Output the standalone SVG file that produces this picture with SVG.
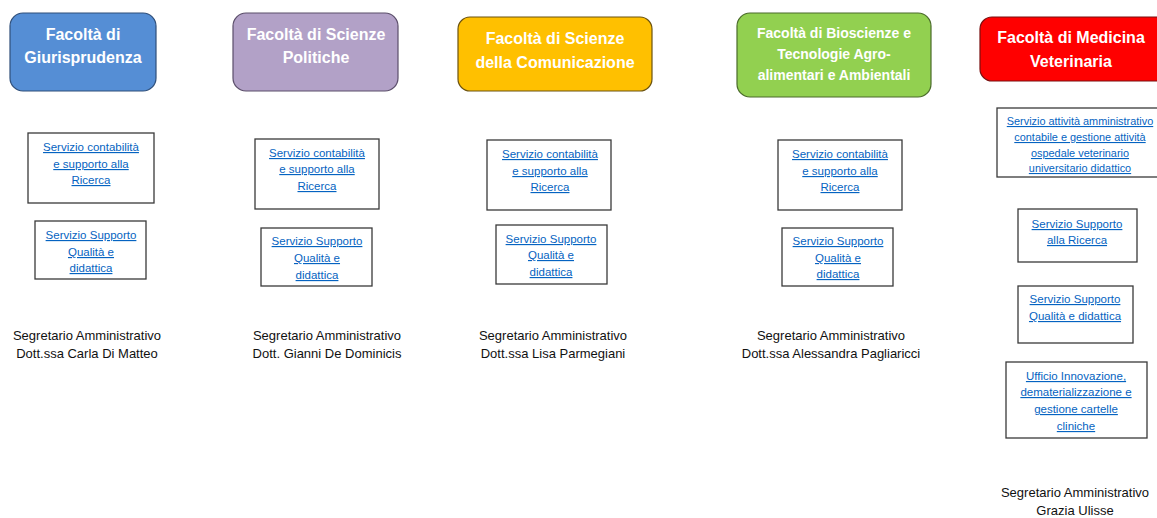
<svg xmlns="http://www.w3.org/2000/svg" width="1157" height="518" viewBox="0 0 1157 518">
<style>
.hdr{font-family:"Liberation Sans",Arial,sans-serif;font-weight:bold;fill:#fff;text-anchor:middle}
.h16{font-size:16px}
.h14{font-size:14px}
.svc{fill:#fff;stroke:#3a3a3a;stroke-width:1.3}
.lnk{font-family:"Liberation Sans",Arial,sans-serif;font-size:11.5px;fill:#0563C1;text-decoration:underline;text-anchor:middle}
.lnk.sm{font-size:10.9px}
.sec{font-family:"Liberation Sans",Arial,sans-serif;font-size:13px;fill:#111;text-anchor:middle}
</style>
<rect width="1157" height="518" fill="#fff"/>
<g id="connectors"/>
<g id="fac1">
<rect x="10" y="13" width="146" height="78" rx="13" fill="#558ED5" stroke="#2f4f7a" stroke-width="1.2"/>
<text class="hdr h16" x="83" y="40">Facoltà di</text>
<text class="hdr h16" x="83" y="63">Giurisprudenza</text>
</g>
<g id="fac2">
<rect x="233" y="13" width="165" height="78" rx="13" fill="#B2A1C7" stroke="#5b4e6a" stroke-width="1.2"/>
<text class="hdr h16" x="316" y="40">Facoltà di Scienze</text>
<text class="hdr h16" x="316" y="63">Politiche</text>
</g>
<g id="fac3">
<rect x="458" y="17" width="194" height="74" rx="12" fill="#FFC000" stroke="#6b5210" stroke-width="1.2"/>
<text class="hdr h16" x="555" y="44">Facoltà di Scienze</text>
<text class="hdr h16" x="555" y="68">della Comunicazione</text>
</g>
<g id="fac4">
<rect x="737" y="13" width="194" height="84" rx="13" fill="#92D050" stroke="#4a6b2a" stroke-width="1.2"/>
<text class="hdr h14" x="834" y="38">Facoltà di Bioscienze e</text>
<text class="hdr h14" x="834" y="59">Tecnologie Agro-</text>
<text class="hdr h14" x="834" y="80">alimentari e Ambientali</text>
</g>
<g id="fac5">
<rect x="980" y="17" width="190" height="64" rx="12" fill="#FF0000" stroke="#7a1010" stroke-width="1.2"/>
<text class="hdr h16" x="1071" y="43">Facoltà di Medicina</text>
<text class="hdr h16" x="1071" y="67">Veterinaria</text>
</g>
<g id="s1a">
<rect class="svc" x="28" y="133" width="126" height="70"/>
<text class="lnk" x="91" y="151">Servizio contabilità</text>
<text class="lnk" x="91" y="168">e supporto alla</text>
<text class="lnk" x="91" y="184">Ricerca</text>
</g>
<g id="s1b">
<rect class="svc" x="35" y="221" width="111" height="58"/>
<text class="lnk" x="91" y="239">Servizio Supporto</text>
<text class="lnk" x="91" y="256">Qualità e</text>
<text class="lnk" x="91" y="272">didattica</text>
</g>
<g id="s2a">
<rect class="svc" x="255" y="139" width="124" height="70"/>
<text class="lnk" x="317" y="157">Servizio contabilità</text>
<text class="lnk" x="317" y="173">e supporto alla</text>
<text class="lnk" x="317" y="190">Ricerca</text>
</g>
<g id="s2b">
<rect class="svc" x="261" y="228" width="111" height="58"/>
<text class="lnk" x="317" y="245">Servizio Supporto</text>
<text class="lnk" x="317" y="262">Qualità e</text>
<text class="lnk" x="317" y="279">didattica</text>
</g>
<g id="s3a">
<rect class="svc" x="487" y="140" width="124" height="70"/>
<text class="lnk" x="550" y="158">Servizio contabilità</text>
<text class="lnk" x="550" y="175">e supporto alla</text>
<text class="lnk" x="550" y="191">Ricerca</text>
</g>
<g id="s3b">
<rect class="svc" x="496" y="225" width="111" height="59"/>
<text class="lnk" x="551" y="243">Servizio Supporto</text>
<text class="lnk" x="551" y="259">Qualità e</text>
<text class="lnk" x="551" y="276">didattica</text>
</g>
<g id="s4a">
<rect class="svc" x="778" y="140" width="124" height="70"/>
<text class="lnk" x="840" y="158">Servizio contabilità</text>
<text class="lnk" x="840" y="175">e supporto alla</text>
<text class="lnk" x="840" y="191">Ricerca</text>
</g>
<g id="s4b">
<rect class="svc" x="782" y="228" width="111" height="58"/>
<text class="lnk" x="838" y="245">Servizio Supporto</text>
<text class="lnk" x="838" y="262">Qualità e</text>
<text class="lnk" x="838" y="278">didattica</text>
</g>
<g id="s5a">
<rect class="svc" x="997" y="108" width="165" height="69"/>
<text class="lnk sm" x="1080" y="125">Servizio attività amministrativo</text>
<text class="lnk sm" x="1080" y="141">contabile e gestione attività</text>
<text class="lnk sm" x="1080" y="157">ospedale veterinario</text>
<text class="lnk sm" x="1080" y="172">universitario didattico</text>
</g>
<g id="s5b">
<rect class="svc" x="1018" y="209" width="119" height="53"/>
<text class="lnk" x="1077" y="228">Servizio Supporto</text>
<text class="lnk" x="1077" y="244">alla Ricerca</text>
</g>
<g id="s5c">
<rect class="svc" x="1018" y="286" width="115" height="57"/>
<text class="lnk" x="1075" y="303">Servizio Supporto</text>
<text class="lnk" x="1075" y="320">Qualità e didattica</text>
</g>
<g id="s5d">
<rect class="svc" x="1006" y="362" width="141" height="76"/>
<text class="lnk" x="1076" y="380">Ufficio Innovazione,</text>
<text class="lnk" x="1076" y="396">dematerializzazione e</text>
<text class="lnk" x="1076" y="413">gestione cartelle</text>
<text class="lnk" x="1076" y="430">cliniche</text>
</g>
<g id="sec1">
<text class="sec" x="87" y="340">Segretario Amministrativo</text>
<text class="sec" x="87" y="358">Dott.ssa Carla Di Matteo</text>
</g>
<g id="sec2">
<text class="sec" x="327" y="340">Segretario Amministrativo</text>
<text class="sec" x="327" y="358">Dott. Gianni De Dominicis</text>
</g>
<g id="sec3">
<text class="sec" x="553" y="340">Segretario Amministrativo</text>
<text class="sec" x="553" y="358">Dott.ssa Lisa Parmegiani</text>
</g>
<g id="sec4">
<text class="sec" x="831" y="340">Segretario Amministrativo</text>
<text class="sec" x="831" y="358">Dott.ssa Alessandra Pagliaricci</text>
</g>
<g id="sec5">
<text class="sec" x="1075" y="497">Segretario Amministrativo</text>
<text class="sec" x="1075" y="515">Grazia Ulisse</text>
</g>
</svg>
